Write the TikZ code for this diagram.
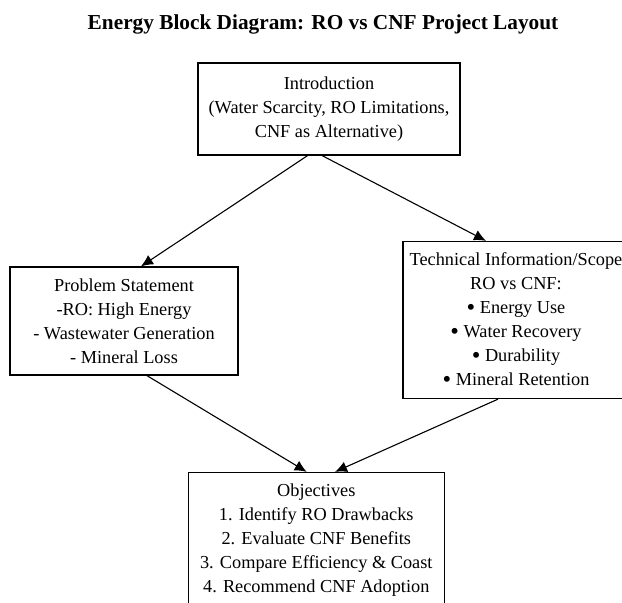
\documentclass[tikz,border=0pt]{standalone}
\usepackage{fontspec}
\usepackage{graphicx}
\setmainfont{Liberation Serif}
\usetikzlibrary{arrows.meta}
\newcommand{\dotmark}{\raisebox{-2.6pt}{\scalebox{1.35}{\textbullet}}}
\tikzset{
  block/.style={draw, line width=1.3pt, align=center, inner sep=0pt, font=\fontsize{18.3}{24}\selectfont},
  link/.style={-{Latex[length=12pt,width=11pt]}, line width=1.1pt}
}
\begin{document}
\begin{tikzpicture}[x=1pt,y=-1pt]
\useasboundingbox (0,0) rectangle (622,603);
\clip (0,0) rectangle (622,603);
\node[anchor=base, font=\bfseries\fontsize{21.3}{24}\selectfont] (title) at (323,29.5) {Energy Block Diagram: RO vs CNF Project Layout};
\node[block, minimum width=262pt, minimum height=92pt] (intro) at (329,109) {Introduction\\(Water Scarcity, RO Limitations,\\CNF as Alternative)};
\node[block, minimum width=228pt, minimum height=108pt] (prob) at (124,321) {Problem Statement\\-RO: High Energy\\- Wastewater Generation\\- Mineral Loss};
\node[block, minimum width=226pt, minimum height=157pt] (tech) at (516,320) {Technical Information/Scope\\RO vs CNF:\\\dotmark{} Energy Use\\\dotmark{} Water Recovery\\\dotmark{} Durability\\\dotmark{} Mineral Retention};
\node[block, minimum width=256pt, minimum height=135pt] (obj) at (316.3,540) {Objectives\\1. Identify RO Drawbacks\\2. Evaluate CNF Benefits\\3. Compare Efficiency \& Coast\\4. Recommend CNF Adoption};
\draw[link] ([xshift=-21.5pt]intro.south) -- ([xshift=17pt]prob.north);
\draw[link] ([xshift=-6.8pt]intro.south) -- ([xshift=-30pt]tech.north);
\draw[link] ([xshift=23pt]prob.south) -- ([xshift=-9.6pt]obj.north);
\draw[link] ([xshift=-18pt]tech.south) -- ([xshift=18.7pt]obj.north);
\end{tikzpicture}
\end{document}
